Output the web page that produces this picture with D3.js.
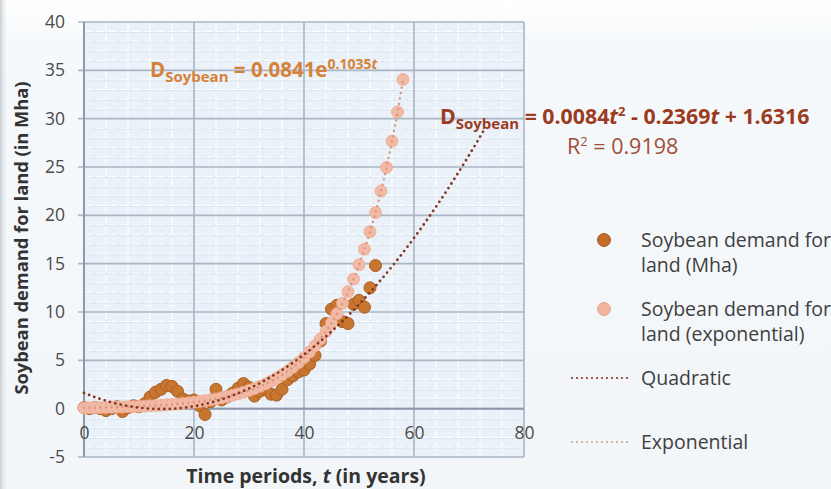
<!DOCTYPE html>
<html>
<head>
<meta charset="utf-8">
<script src="https://cdn.jsdelivr.net/npm/d3@7"></script>
<style>
  html, body { margin: 0; padding: 0; background: #f3f7fa; }
  svg { display: block; font-family: "Open Sans", Lato, sans-serif; }
</style>
</head>
<body>
<svg id="chart" width="831" height="489"></svg>
<script>
// Observed soybean land demand (Mha) by time period t = 0, 1, 2, ...
const observedDemand = [
  0.1, 0.0, 0.1, 0.0, -0.2, 0.0, 0.2, -0.3, 0.1, 0.3,
  0.2, 0.5, 1.2, 1.7, 2.0, 2.4, 2.3, 1.8, 1.0, 0.8,
  0.9, 0.3, -0.6, 0.7, 2.0, 0.9, 1.2, 1.6, 2.1, 2.6,
  2.2, 1.3, 1.8, 2.0, 1.5, 1.4, 2.0, 3.0, 3.4, 3.8,
  4.0, 4.6, 5.5, 7.0, 8.8, 10.3, 10.7, 9.0, 8.8, 10.8,
  11.2, 10.5, 12.5, 14.8
];
// Exponential series, t = 0 .. 58
const exponentialDemand = [
  0.08, 0.09, 0.10, 0.11, 0.13, 0.14, 0.16, 0.17, 0.19, 0.21,
  0.24, 0.26, 0.29, 0.32, 0.36, 0.40, 0.44, 0.49, 0.54, 0.60,
  0.67, 0.74, 0.82, 0.91, 1.01, 1.12, 1.24, 1.38, 1.53, 1.69,
  1.88, 2.08, 2.31, 2.56, 2.84, 3.15, 3.49, 3.87, 4.30, 4.76,
  5.28, 5.86, 6.50, 7.21, 7.99, 8.87, 9.83, 10.91, 12.09, 13.41,
  14.88, 16.50, 18.30, 20.29, 22.51, 24.96, 27.68, 30.70, 34.05
];
// Trend line coefficients
const quadCoef = [0.0084, -0.2369, 1.6316];   // a t^2 + b t + c
const quadRange = [0, 73];
const expCoef = [0.0841, 0.1035];             // A e^(k t)
const expRange = [0, 58];
const rSquared = "0.9198";

const xTicks = [0, 20, 40, 60, 80];
const yTicks = [-5, 0, 5, 10, 15, 20, 25, 30, 35, 40];

const legendItems = [
  { type: "dot", color: "#c26b2b", stroke: "#a85a22", lines: ["Soybean demand for", "land (Mha)"] },
  { type: "dot", color: "#f0b4a0", stroke: "#e5a48e", lines: ["Soybean demand for", "land (exponential)"] },
  { type: "line", color: "#8a3a26", lines: ["Quadratic"] },
  { type: "line", color: "#dba090", lines: ["Exponential"] }
];

const svg = d3.select("#chart");

// soft page background, whiter toward the top
const defs = svg.append("defs");
const bg = defs.append("linearGradient").attr("id", "bg").attr("x1", 0).attr("y1", 0).attr("x2", 0).attr("y2", 1);
bg.append("stop").attr("offset", "0").attr("stop-color", "#ffffff");
bg.append("stop").attr("offset", "0.08").attr("stop-color", "#f6f9fb");
bg.append("stop").attr("offset", "1").attr("stop-color", "#f2f6f9");
svg.append("rect").attr("width", 831).attr("height", 489).attr("fill", "url(#bg)");
const edge = defs.append("linearGradient").attr("id", "edge").attr("x1", 0).attr("y1", 0).attr("x2", 1).attr("y2", 0);
edge.append("stop").attr("offset", "0").attr("stop-color", "#c9ced3");
edge.append("stop").attr("offset", "1").attr("stop-color", "#f2f6f9").attr("stop-opacity", 0);
svg.append("rect").attr("x", 0).attr("y", 0).attr("width", 8).attr("height", 489).attr("fill", "url(#edge)");

const x = d3.scaleLinear().domain([0, 80]).range([84, 524]);
const y = d3.scaleLinear().domain([-5, 40]).range([457, 22]);

// plot area
svg.append("rect")
  .attr("x", x(0)).attr("y", y(40))
  .attr("width", x(80) - x(0)).attr("height", y(-5) - y(40))
  .attr("fill", "#eaf1f8");

const grid = svg.append("g");
// minor gridlines
grid.selectAll("line.ymin").data(d3.range(-5, 40.5, 1).filter(v => v % 5 !== 0))
  .join("line")
  .attr("x1", x(0)).attr("x2", x(80))
  .attr("y1", d => y(d)).attr("y2", d => y(d))
  .attr("stroke", "#ffffff").attr("stroke-width", 1.2).attr("stroke-dasharray", "9,3");
grid.selectAll("line.xmin").data(d3.range(0, 80.5, 4).filter(v => v % 20 !== 0))
  .join("line")
  .attr("y1", y(40)).attr("y2", y(-5))
  .attr("x1", d => x(d)).attr("x2", d => x(d))
  .attr("stroke", "#ffffff").attr("stroke-width", 1.2).attr("stroke-dasharray", "9,3");
grid.selectAll("line.ymin2").data(d3.range(-5, 40.5, 1).filter(v => v % 5 !== 0))
  .join("line")
  .attr("x1", x(0)).attr("x2", x(80))
  .attr("y1", d => y(d) + 0.8).attr("y2", d => y(d) + 0.8)
  .attr("stroke", "#d6e3ef").attr("stroke-width", 0.8);
// major gridlines
grid.selectAll("line.ymaj").data(yTicks)
  .join("line")
  .attr("x1", x(0) - 6).attr("x2", x(80))
  .attr("y1", d => y(d)).attr("y2", d => y(d))
  .attr("stroke", "#aab6c4").attr("stroke-width", 1.6);
grid.selectAll("line.xmaj").data(xTicks)
  .join("line")
  .attr("y1", y(40)).attr("y2", y(-5))
  .attr("x1", d => x(d)).attr("x2", d => x(d))
  .attr("stroke", "#aab6c4").attr("stroke-width", 1.6);
// axis lines
grid.append("line").attr("x1", x(0)).attr("x2", x(80)).attr("y1", y(0)).attr("y2", y(0))
  .attr("stroke", "#8e9aa9").attr("stroke-width", 2);
grid.append("line").attr("x1", x(0)).attr("x2", x(0)).attr("y1", y(40)).attr("y2", y(-5))
  .attr("stroke", "#8e9aa9").attr("stroke-width", 2);

// tick labels (plain hyphen for negatives)
const tickFmt = d => String(d);
const yAxis = d3.axisLeft(y).tickValues(yTicks).tickFormat(tickFmt).tickSize(0).tickPadding(0);
svg.append("g").attr("transform", `translate(${x(0) - 19},0)`).call(yAxis)
  .call(g => g.select(".domain").remove())
  .selectAll("text").attr("font-size", 17.5).attr("fill", "#4a4a4a").attr("font-family", "'Open Sans', sans-serif");
const xAxis = d3.axisBottom(x).tickValues(xTicks).tickFormat(tickFmt).tickSize(0).tickPadding(0);
svg.append("g").attr("transform", `translate(0,${y(-1.8)})`).call(xAxis)
  .call(g => g.select(".domain").remove())
  .selectAll("text").attr("font-size", 17.5).attr("fill", "#4a4a4a").attr("font-family", "'Open Sans', sans-serif");

// observed points
svg.append("g").selectAll("circle").data(observedDemand)
  .join("circle")
  .attr("cx", (d, i) => x(i)).attr("cy", d => y(d)).attr("r", 6)
  .attr("fill", "#c8752f").attr("stroke", "#ad5e22").attr("stroke-width", 1);

// exponential series points
svg.append("g").selectAll("circle").data(exponentialDemand)
  .join("circle")
  .attr("cx", (d, i) => x(i)).attr("cy", d => y(d)).attr("r", 6)
  .attr("fill", "#f2b9a4").attr("stroke", "#ebab95").attr("stroke-width", 0.8);

// trend lines
const line = d3.line().x(d => x(d[0])).y(d => y(d[1])).curve(d3.curveMonotoneX);
const quadPts = d3.range(quadRange[0], quadRange[1] + 0.001, 0.5)
  .map(t => [t, quadCoef[0] * t * t + quadCoef[1] * t + quadCoef[2]]);
const expPts = d3.range(expRange[0], expRange[1] + 0.001, 0.5)
  .map(t => [t, expCoef[0] * Math.exp(expCoef[1] * t)]);
svg.append("path").attr("d", line(expPts)).attr("fill", "none")
  .attr("stroke", "#d99580").attr("stroke-width", 2.4)
  .attr("stroke-linecap", "round").attr("stroke-dasharray", "0,5.5");
svg.append("path").attr("d", line(quadPts)).attr("fill", "none")
  .attr("stroke", "#84351f").attr("stroke-width", 2.8)
  .attr("stroke-linecap", "round").attr("stroke-dasharray", "0,5.5");

// equations
const eq1 = svg.append("text").attr("x", 150).attr("y", 77)
  .attr("fill", "#d6813a").attr("font-weight", "bold").attr("font-size", 20.5);
eq1.append("tspan").text("D");
eq1.append("tspan").attr("font-size", 15).attr("dy", 5).text("Soybean");
eq1.append("tspan").attr("dy", -5).text(" = " + expCoef[0] + "e");
eq1.append("tspan").attr("font-size", 14).attr("dy", -8).text(expCoef[1]);
eq1.append("tspan").attr("font-size", 14).attr("font-style", "italic").text("t");

const eq2 = svg.append("text").attr("x", 440).attr("y", 124)
  .attr("fill", "#9b3b22").attr("font-weight", "bold").attr("font-size", 21.3);
eq2.append("tspan").text("D");
eq2.append("tspan").attr("font-size", 15).attr("dy", 5).text("Soybean");
eq2.append("tspan").attr("dy", -5).text(" = " + quadCoef[0].toFixed(4));
eq2.append("tspan").attr("font-style", "italic").text("t");
eq2.append("tspan").attr("font-size", 13).attr("dy", -8).text("2");
eq2.append("tspan").attr("dy", 8).text(" - " + Math.abs(quadCoef[1]).toFixed(4));
eq2.append("tspan").attr("font-style", "italic").text("t");
eq2.append("tspan").text(" + " + quadCoef[2].toFixed(4));

const r2 = svg.append("text").attr("x", 567).attr("y", 154)
  .attr("fill", "#a24e36").attr("font-size", 21.5);
r2.append("tspan").text("R");
r2.append("tspan").attr("font-size", 13).attr("dy", -8).text("2");
r2.append("tspan").attr("dy", 8).text(" = " + rSquared);

// axis titles
svg.append("text")
  .attr("transform", "translate(28,238) rotate(-90)")
  .attr("text-anchor", "middle").attr("font-weight", "bold").attr("font-size", 18.3)
  .attr("fill", "#333").text("Soybean demand for land (in Mha)");
const xt = svg.append("text").attr("x", 306).attr("y", 483)
  .attr("text-anchor", "middle").attr("font-weight", "bold").attr("font-size", 19.5).attr("fill", "#333");
xt.append("tspan").text("Time periods, ");
xt.append("tspan").attr("font-style", "italic").text("t");
xt.append("tspan").text(" (in years)");

// legend
const legendY = [240, 309, 378, 442];
const lg = svg.append("g");
legendItems.forEach((item, i) => {
  const cy = legendY[i];
  if (item.type === "dot") {
    lg.append("circle").attr("cx", 604).attr("cy", cy).attr("r", 6.5)
      .attr("fill", item.color).attr("stroke", item.stroke).attr("stroke-width", 1);
  } else {
    lg.append("line").attr("x1", 572).attr("x2", 630).attr("y1", cy).attr("y2", cy)
      .attr("stroke", item.color).attr("stroke-width", 2.2)
      .attr("stroke-linecap", "round").attr("stroke-dasharray", "0,5");
  }
  item.lines.forEach((s, j) => {
    lg.append("text").attr("x", 641).attr("y", cy + 7 + j * 25)
      .attr("font-size", 19.5).attr("fill", "#404040").text(s);
  });
});
</script>
</body>
</html>
